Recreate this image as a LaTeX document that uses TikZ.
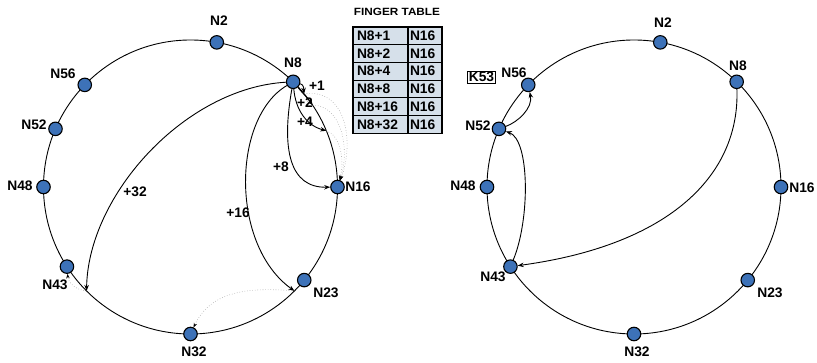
\documentclass[tikz,border=0pt]{standalone}
\usepackage{fontspec}
\setmainfont{Liberation Sans}
\usetikzlibrary{arrows.meta,calc}
\definecolor{nodeblue}{RGB}{61,114,184}
\definecolor{cellfill}{RGB}{214,224,234}
\begin{document}
\begin{tikzpicture}[x=1pt,y=-1pt,
  peer/.style={circle,draw=black,line width=1.1pt,fill=nodeblue,minimum size=13.5pt,inner sep=0pt},
  lab/.style={font=\fontsize{13.8}{14}\selectfont\bfseries,inner sep=0pt},
  ringline/.style={line width=0.9pt},
  finger/.style={line width=0.9pt,-{Stealth[length=6pt,width=4.5pt]}},
  succ/.style={gray!70,dotted,line width=0.6pt,-{Stealth[length=4.5pt,width=3.5pt,color=black]}},
  cellL/.style={draw=black,line width=1.1pt,fill=cellfill,font=\fontsize{13.8}{14}\selectfont\bfseries,
    text width=47pt,inner xsep=4pt,inner ysep=0pt,align=left,minimum height=17.7pt},
  cellR/.style={draw=black,line width=1.1pt,fill=cellfill,font=\fontsize{13.8}{14}\selectfont\bfseries,
    text width=30pt,inner xsep=2pt,inner ysep=0pt,align=left,minimum height=17.7pt},
]
\useasboundingbox (0,0) rectangle (817,363);

% ---------- left ring ----------
\coordinate (CL) at (190.5,187);
\draw[ringline] (CL) circle[radius=147];
\node[peer] (L2)  at ($(CL)+(-79.7:147)$) {};
\node[peer] (L8)  at ($(CL)+(-45.7:147)$) {};
\node[peer] (L16) at ($(CL)+(0:147)$) {};
\node[peer] (L23) at ($(CL)+(39.3:147)$) {};
\node[peer] (L32) at ($(CL)+(90:147)$) {};
\node[peer] (L43) at ($(CL)+(147.2:147)$) {};
\node[peer] (L48) at ($(CL)+(180:147)$) {};
\node[peer] (L52) at ($(CL)+(-156.7:147)$) {};
\node[peer] (L56) at ($(CL)+(-136:147)$) {};
\coordinate (L9)  at ($(CL)+(-39.4:147)$);
\coordinate (L10) at ($(CL)+(-33.75:147)$);
\coordinate (L12) at ($(CL)+(-22.5:147)$);
\coordinate (L24) at ($(CL)+(45:147)$);
\coordinate (L40) at ($(CL)+(135:147)$);

\node[lab] (tL2)  at (219,21)  {N2};
\node[lab] (tL8)  at (293,63)  {N8};
\node[lab] (tL16) at (358,187) {N16};
\node[lab] (tL23) at (326,293) {N23};
\node[lab] (tL32) at (194,352) {N32};
\node[lab] (tL43) at (55,285)  {N43};
\node[lab] (tL48) at (20,186)  {N48};
\node[lab] (tL52) at (34,125)  {N52};
\node[lab] (tL56) at (63,74)   {N56};

% fingers
\draw[finger] (L8) .. controls (185,88) and (88,195) .. (L40);
\draw[finger] (L8) .. controls (232,118) and (230,245) .. (L24);
\draw[finger] (L8) .. controls (281,150) and (290,188) .. (L16);
\draw[finger] (L8) to[out=-15,in=95] (L9);
\draw[finger] (L8) to[out=-50,in=125] (L10);
\draw[finger] (L8) to[out=-85,in=165] (L12);
\node[lab] (p1)  at (317,85.5) {+1};
\node[lab] (p2)  at (305,103)  {+2};
\node[lab] (p4)  at (305,122)  {+4};
\node[lab] (p8)  at (281,167)  {+8};
\node[lab] (p16) at (238,213)  {+16};
\node[lab] (p32) at (135,192)  {+32};

% successor hops
\draw[succ] (L40) to[out=175,in=-85] (L43);
\draw[succ] (L24) to[out=175,in=65] (L32);
\draw[succ] (L9) .. controls (348,88) and (354,145) .. (L16);
\draw[succ] (L10) .. controls (342,105) and (350,150) .. (L16);
\draw[succ] (L12) .. controls (340,135) and (345,160) .. (L16);

% ---------- finger table ----------
\node[font=\fontsize{10.5}{11}\selectfont\bfseries,xscale=1.12,inner sep=0pt] (ftitle) at (397,12) {FINGER TABLE};
\foreach \i/\t in {1/N8+1,2/N8+2,3/N8+4,4/N8+8,5/N8+16,6/N8+32}{
  \node[cellL] (fa\i) at (380.5,{27+17.7*(\i-0.5)}) {\t};
  \node[cellR] (fb\i) at (425,{27+17.7*(\i-0.5)}) {N16};
}

% ---------- right ring ----------
\coordinate (CR) at (634,187);
\draw[ringline] (CR) circle[radius=147];
\node[peer] (R2)  at ($(CR)+(-79.7:147)$) {};
\node[peer] (R8)  at ($(CR)+(-45.7:147)$) {};
\node[peer] (R16) at ($(CR)+(0:147)$) {};
\node[peer] (R23) at ($(CR)+(39.3:147)$) {};
\node[peer] (R32) at ($(CR)+(90:147)$) {};
\node[peer] (R43) at ($(CR)+(147.2:147)$) {};
\node[peer] (R48) at ($(CR)+(180:147)$) {};
\node[peer] (R52) at ($(CR)+(-156.7:147)$) {};
\node[peer] (R56) at ($(CR)+(-136:147)$) {};

\node[lab] (tR2)  at (663,23)  {N2};
\node[lab] (tR8)  at (738,66)  {N8};
\node[lab] (tR16) at (802,188) {N16};
\node[lab] (tR23) at (770,293) {N23};
\node[lab] (tR32) at (637,352) {N32};
\node[lab] (tR43) at (493,277) {N43};
\node[lab] (tR48) at (463,186) {N48};
\node[lab] (tR52) at (478,126) {N52};
\node[lab] (tR56) at (514,73)  {N56};
\node[lab,draw=black,line width=0.7pt,inner sep=1.2pt] (key) at (481.5,77) {K53};

\draw[finger] (R8) .. controls (740,175) and (670,245) .. (R43);
\draw[finger] (R43) .. controls (530,220) and (530,140) .. (R52);
\draw[finger] (R52) .. controls (518,122) and (533,108) .. (R56);
\end{tikzpicture}
\end{document}
